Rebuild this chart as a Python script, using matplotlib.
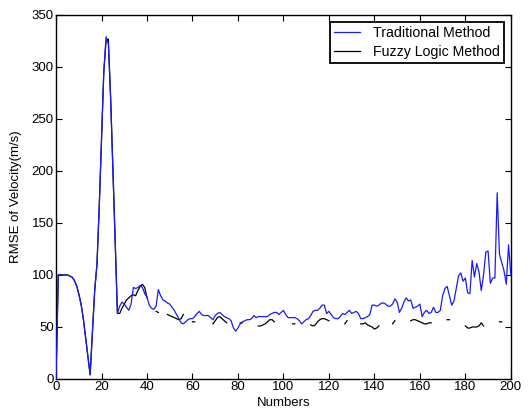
import numpy as np
import matplotlib
matplotlib.use("Agg")
import matplotlib.pyplot as plt

plt.rcParams['font.family'] = ['Liberation Sans', 'DejaVu Sans']

nan = np.nan
numbers = np.arange(0, 201)

# Traditional method (n = 0..200)
traditional = [
    0, 100, 100, 100, 100, 100, 99, 98, 95, 90,            # 0-9
    82, 72, 58, 40, 22, 4, 45, 85, 110, 165,               # 10-19
    230, 295, 329, 322, 270, 200, 130, 63, 70, 74,         # 20-29
    72, 69, 66, 72, 88, 87, 88, 90, 88, 82,                # 30-39
    79, 71, 68, 67, 70, 86, 80, 76, 75, 73,                # 40-49
    72, 69, 66, 62, 58, 54, 53, 55, 57, 58,                # 50-59
    58, 60, 63, 65, 62, 61, 61, 61, 59, 57,                # 60-69
    61, 63, 64, 62, 60, 59, 58, 56, 49, 46,                # 70-79
    49, 53, 55, 56, 57, 57, 58, 61, 59, 60,                # 80-89
    60, 60, 60, 60, 62, 63, 64, 64, 62, 64,                # 90-99
    66, 62, 59, 59, 59, 59, 58, 56, 53, 55,                # 100-109
    57, 58, 61, 65, 66, 66, 68, 71, 71, 63,                # 110-119
    65, 62, 59, 58, 58, 60, 63, 62, 64, 66,                # 120-129
    63, 64, 65, 63, 58, 58, 59, 60, 62, 71,                # 130-139
    71, 70, 71, 73, 73, 72, 70, 70, 72, 77,                # 140-149
    74, 64, 68, 74, 78, 75, 76, 68, 69, 70,                # 150-159
    72, 60, 64, 66, 63, 64, 69, 64, 64, 66,                # 160-169
    80, 87, 89, 80, 71, 75, 87, 99, 102, 94,               # 170-179
    97, 83, 82, 114, 98, 111, 103, 85, 100, 122,           # 180-189
    123, 92, 97, 97, 179, 120, 112, 104, 91, 129,          # 190-199
    100,                                                   # 200
]

# Fuzzy logic method (gaps where it is hidden in the picture)
fuzzy = [
    0, 100, 100, 100, 100, 100, 99, 98, 95, 90,            # 0-9
    82, 72, 58, 40, 22, 4, 45, 85, 110, 165,               # 10-19
    230, 295, 325, 327, 272, 205, 135, 63, 63, 68,         # 20-29
    72, 76, 78, 80, 81, 80, 85, 89, 91, 88,                # 30-39
    78, nan, nan, nan, 65, 64, nan, nan, nan, 62,          # 40-49
    61, 60, 59, 58, 57, 58, 62, nan, nan, nan,             # 50-59
    55, 55, nan, nan, nan, nan, nan, nan, nan, 53,         # 60-69
    56, 59, 60, 58, 56, 54, nan, nan, nan, nan,            # 70-79
    nan, 54, 54, nan, nan, nan, nan, nan, nan, 51,         # 80-89
    51, 52, 53, 55, 57, 57, 55, nan, nan, nan,             # 90-99
    nan, nan, nan, nan, 53, 53, nan, nan, nan, nan,        # 100-109
    nan, nan, 52, 51, 52, 55, 57, 58, 58, 57,              # 110-119
    56, nan, nan, nan, nan, nan, nan, 53, 56, nan,         # 120-129
    nan, nan, nan, nan, 53, 53, 54, 52, 51, 50,            # 130-139
    48, 49, 51, nan, nan, nan, nan, nan, 53, 56,           # 140-149
    nan, nan, nan, nan, nan, nan, 56, 57, 57, 56,          # 150-159
    55, 54, 53, 53, 54, 54, nan, nan, nan, nan,            # 160-169
    nan, nan, 57, 57, nan, nan, nan, nan, nan, nan,        # 170-179
    51, 49, 49, 50, 50, 50, 51, 54, 51, nan,               # 180-189
    nan, nan, nan, nan, nan, 55, 55, nan, nan, nan,        # 190-199
    nan,                                                   # 200
]

traditional = np.array(traditional, dtype=float)
fuzzy = np.array(fuzzy, dtype=float)

fig = plt.figure(figsize=(5.31, 4.16), dpi=100)
ax = fig.add_axes([0.1055, 0.089, 0.8565, 0.875])

ax.plot(numbers, fuzzy, color='black', lw=0.9, zorder=2, label='_nolegend_')
ax.plot(numbers, traditional, color='#1a1aff', lw=0.9, zorder=3, label='Traditional Method')
ax.plot([], [], color='black', lw=0.9, label='Fuzzy Logic Method')

ax.set_xlim(0, 200)
ax.set_ylim(0, 350)
ax.set_xticks(np.arange(0, 201, 20))
ax.set_yticks(np.arange(0, 351, 50))
ax.tick_params(direction='in', top=True, right=True, labelsize=9.5, length=4, width=0.8, pad=1.5)
for s in ax.spines.values():
    s.set_linewidth(1.0)

ax.set_xlabel('Numbers', fontsize=9.5, labelpad=3)
ax.set_ylabel('RMSE of Velocity(m/s)', fontsize=9.5, labelpad=7)

leg = ax.legend(loc='upper right', fontsize=10.2, fancybox=False, framealpha=1,
                edgecolor='black', borderaxespad=0.5, handlelength=1.8,
                labelspacing=0.3, borderpad=0.3, handletextpad=0.9)
leg.get_frame().set_linewidth(1.3)

fig.savefig('out.png', dpi=100)
